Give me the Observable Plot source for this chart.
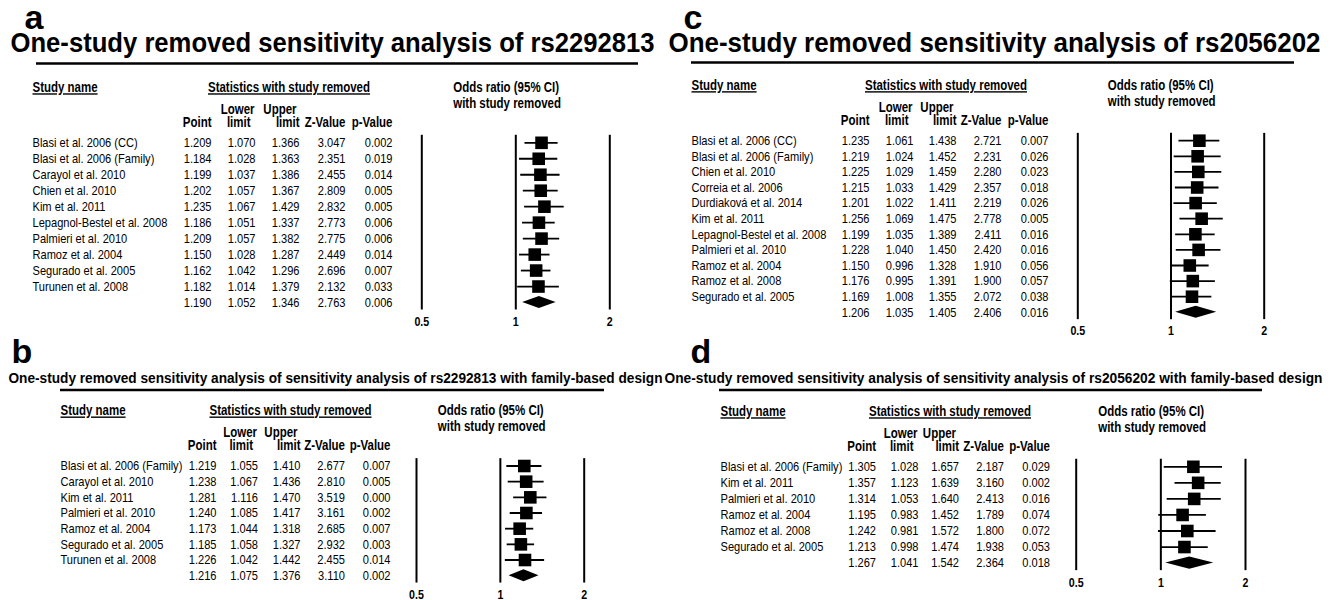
<!DOCTYPE html>
<html><head><meta charset="utf-8">
<script src="https://cdn.jsdelivr.net/npm/d3@7"></script>
<script src="https://cdn.jsdelivr.net/npm/@observablehq/plot@0.6"></script>
<style>
body{margin:0;background:#fff;}
#wrap{position:relative;width:1337px;height:600px;overflow:hidden;background:#fff;}
#wrap svg{position:absolute;left:0;top:0;}
</style></head><body><div id="wrap"></div>
<script>
// ---------- Panel a: rs2292813 ----------
const studiesA = ["Blasi et al. 2006 (CC)","Blasi et al. 2006 (Family)","Carayol et al. 2010","Chien et al. 2010","Kim et al. 2011","Lepagnol-Bestel et al. 2008","Palmieri et al. 2010","Ramoz et al. 2004","Segurado et al. 2005","Turunen et al. 2008"];
const pointA = [1.209,1.184,1.199,1.202,1.235,1.186,1.209,1.150,1.162,1.182];
const lowerA = [1.070,1.028,1.037,1.057,1.067,1.051,1.057,1.028,1.042,1.014];
const upperA = [1.366,1.363,1.386,1.367,1.429,1.337,1.382,1.287,1.296,1.379];
const zA = [3.047,2.351,2.455,2.809,2.832,2.773,2.775,2.449,2.696,2.132];
const pA = [0.002,0.019,0.014,0.005,0.005,0.006,0.006,0.014,0.007,0.033];
const summaryA = [1.190,1.052,1.346,2.763,0.006];

// ---------- Panel b: rs2292813 family-based ----------
const studiesB = ["Blasi et al. 2006 (Family)","Carayol et al. 2010","Kim et al. 2011","Palmieri et al. 2010","Ramoz et al. 2004","Segurado et al. 2005","Turunen et al. 2008"];
const pointB = [1.219,1.238,1.281,1.240,1.173,1.185,1.226];
const lowerB = [1.055,1.067,1.116,1.085,1.044,1.058,1.042];
const upperB = [1.410,1.436,1.470,1.417,1.318,1.327,1.442];
const zB = [2.677,2.810,3.519,3.161,2.685,2.932,2.455];
const pB = [0.007,0.005,0.000,0.002,0.007,0.003,0.014];
const summaryB = [1.216,1.075,1.376,3.110,0.002];

// ---------- Panel c: rs2056202 ----------
const studiesC = ["Blasi et al. 2006 (CC)","Blasi et al. 2006 (Family)","Chien et al. 2010","Correia et al. 2006","Durdiaková et al. 2014","Kim et al. 2011","Lepagnol-Bestel et al. 2008","Palmieri et al. 2010","Ramoz et al. 2004","Ramoz et al. 2008","Segurado et al. 2005"];
const pointC = [1.235,1.219,1.225,1.215,1.201,1.256,1.199,1.228,1.150,1.176,1.169];
const lowerC = [1.061,1.024,1.029,1.033,1.022,1.069,1.035,1.040,0.996,0.995,1.008];
const upperC = [1.438,1.452,1.459,1.429,1.411,1.475,1.389,1.450,1.328,1.391,1.355];
const zC = [2.721,2.231,2.280,2.357,2.219,2.778,2.411,2.420,1.910,1.900,2.072];
const pC = [0.007,0.026,0.023,0.018,0.026,0.005,0.016,0.016,0.056,0.057,0.038];
const summaryC = [1.206,1.035,1.405,2.406,0.016];

// ---------- Panel d: rs2056202 family-based ----------
const studiesD = ["Blasi et al. 2006 (Family)","Kim et al. 2011","Palmieri et al. 2010","Ramoz et al. 2004","Ramoz et al. 2008","Segurado et al. 2005"];
const pointD = [1.305,1.357,1.314,1.195,1.242,1.213];
const lowerD = [1.028,1.123,1.053,0.983,0.981,0.998];
const upperD = [1.657,1.639,1.640,1.452,1.572,1.474];
const zD = [2.187,3.160,2.413,1.789,1.800,1.938];
const pD = [0.029,0.002,0.016,0.074,0.072,0.053];
const summaryD = [1.267,1.041,1.542,2.364,0.018];

// ---------- Texts ----------
const panelLetters = ["a","b","c","d"];
const panelTitles = [
  "One-study removed sensitivity analysis of rs2292813",
  "One-study removed sensitivity analysis of sensitivity analysis of rs2292813 with family-based design",
  "One-study removed sensitivity analysis of rs2056202",
  "One-study removed sensitivity analysis of sensitivity analysis of rs2056202 with family-based design"
];
const underlinedHeads = ["Study name", "Statistics with study removed"];
const colHeadTop = ["", "Lower", "Upper", "", ""];
const colHeadBottom = ["Point", "limit", "limit", "Z-Value", "p-Value"];
const oddsTicks = [0.5, 1, 2];

const FONT = "'Liberation Sans',Arial,Helvetica,sans-serif";
const NARROW = 0.82; // Arial Narrow is ~82% the width of Arial

function build(studies, point, lower, upper, z, p, summary, L) {
  const rows = studies.map((s, i) => ({i, name: s, point: point[i], lower: lower[i], upper: upper[i], z: z[i], p: p[i]}));
  const n = rows.length;
  const sum = {i: n, name: "", point: summary[0], lower: summary[1], upper: summary[2], z: summary[3], p: summary[4]};
  const all = rows.concat([sum]);
  const fmt = [d => d.point.toFixed(3), d => d.lower.toFixed(3), d => d.upper.toFixed(3), d => d.z.toFixed(3), d => d.p.toFixed(3)];
  const h = 0.38;
  const diamond = [
    {x: sum.lower, y1: n, y2: n},
    {x: sum.point, y1: n - h, y2: n + h},
    {x: sum.upper, y1: n, y2: n}
  ];
  const FS = 13.5, HS = 14;
  const one = (txt, x, y, o) => Plot.text([txt], {text: d => d, frameAnchor: "top-left", dx: x, dy: y, lineAnchor: "middle", fontFamily: FONT, fontSize: HS, fontWeight: "bold", fill: "#000", ...o});
  const f = L.first;
  const xOne = L.x1;
  const marks = [
    one(L.letter, L.letterX, L.letterY, {fontSize: 34, textAnchor: "start"}),
    one(L.title, L.titleX, L.titleY, {fontSize: L.titleSize, textAnchor: "start"}),
    one(underlinedHeads[0], L.nameX, f - 55, {textAnchor: "start"}),
    one(underlinedHeads[1], (L.cols[0] - 26 + L.cols[4]) / 2, f - 55, {textAnchor: "middle"}),
    one("Odds ratio (95% CI)", xOne - 63, f - 55, {textAnchor: "start"}),
    one("with study removed", xOne - 63, f - 39.5, {textAnchor: "start"}),
    ...colHeadTop.filter(t => t).map(t => {
      const k = colHeadTop.indexOf(t);
      return one(t, L.cols[k] - (k === 1 ? 1 : 3), f - 33.5, {textAnchor: "end"});
    }),
    ...colHeadBottom.map((t, k) => one(t, L.cols[k] - (k === 1 ? 5 : 0), f - 20.5, {textAnchor: "end"})),
    Plot.text(rows, {y: "i", text: "name", frameAnchor: "left", dx: L.nameX, textAnchor: "start", lineAnchor: "middle", fontFamily: FONT, fontSize: FS, fill: "#000"}),
    ...fmt.map((fn, k) => Plot.text(all, {y: "i", text: fn, frameAnchor: "left", dx: L.cols[k], textAnchor: "end", lineAnchor: "middle", fontFamily: FONT, fontSize: FS, fill: "#000"})),
    Plot.ruleX(oddsTicks, {x: d => d, y1: -0.47, y2: n + 0.47, stroke: "#000", strokeWidth: 2}),
    Plot.ruleY(rows, {y: "i", x1: "lower", x2: "upper", stroke: "#000", strokeWidth: 1.8}),
    Plot.dot(rows, {x: "point", y: "i", symbol: "square", r: 7.1, fill: "#000", stroke: null}),
    Plot.areaY(diamond, {x: "x", y1: "y1", y2: "y2", fill: "#000", curve: "linear"}),
    Plot.text(oddsTicks, {x: d => d, y: n + 1.2, text: d => String(d), fontFamily: FONT, fontWeight: "bold", fontSize: 13, fill: "#000", lineAnchor: "middle"})
  ];
  const svg = Plot.plot({
    width: 1337, height: 600,
    margin: 0,
    style: {background: "transparent", overflow: "visible"},
    x: {type: "log", domain: [0.5, 2], range: [L.x05, L.x2], axis: null},
    y: {type: "linear", domain: [0, n], range: [f, f + n * L.rowH], axis: null},
    marks
  });
  document.getElementById("wrap").appendChild(svg);
  const s = d3.select(svg);
  s.selectAll("text").each(function () {
    const t = this.textContent;
    const el = d3.select(this);
    if (t === L.letter) return;
    if (t === L.title) {
      el.attr("textLength", L.titleLen).attr("lengthAdjust", "spacingAndGlyphs");
      return;
    }
    const w = this.getComputedTextLength();
    if (w > 0) el.attr("textLength", (w * NARROW).toFixed(2)).attr("lengthAdjust", "spacingAndGlyphs");
    if (underlinedHeads.includes(t)) el.style("text-decoration", "underline");
  });
  s.append("line").attr("x1", L.ruleX1).attr("x2", L.ruleX2).attr("y1", L.ruleY).attr("y2", L.ruleY).attr("stroke", "#000").attr("stroke-width", 2.5);
}

build(studiesA, pointA, lowerA, upperA, zA, pA, summaryA, {
  letter: panelLetters[0], letterX: 24, letterY: 18, title: panelTitles[0], titleX: 10, titleY: 43, titleSize: 27, titleLen: 644,
  ruleX1: 36, ruleX2: 638, ruleY: 63.5,
  nameX: 32, cols: [211, 255, 299, 345, 392], x05: 421.3, x2: 609.3, x1: 515.7, first: 142.3, rowH: 15.97
});
build(studiesB, pointB, lowerB, upperB, zB, pB, summaryB, {
  letter: panelLetters[1], letterX: 11, letterY: 352, title: panelTitles[1], titleX: 8, titleY: 378, titleSize: 15, titleLen: 654,
  ruleX1: 60, ruleX2: 604, ruleY: 390,
  nameX: 60, cols: [216, 257.5, 300, 344.5, 390], x05: 416, x2: 583.7, x1: 500.3, first: 465.5, rowH: 15.67
});
build(studiesC, pointC, lowerC, upperC, zC, pC, summaryC, {
  letter: panelLetters[2], letterX: 683, letterY: 18, title: panelTitles[2], titleX: 668, titleY: 43, titleSize: 27, titleLen: 652,
  ruleX1: 691, ruleX2: 1294, ruleY: 62.5,
  nameX: 691, cols: [869, 913, 956, 1001, 1048], x05: 1077.3, x2: 1263.7, x1: 1170.3, first: 140.2, rowH: 15.6
});
build(studiesD, pointD, lowerD, upperD, zD, pD, summaryD, {
  letter: panelLetters[3], letterX: 690, letterY: 352, title: panelTitles[3], titleX: 664, titleY: 378, titleSize: 15, titleLen: 658,
  ruleX1: 719, ruleX2: 1262, ruleY: 390,
  nameX: 720, cols: [875.5, 918, 958.5, 1003.5, 1049.5], x05: 1075.7, x2: 1245, x1: 1160.7, first: 466.3, rowH: 16.05
});
</script></body></html>
